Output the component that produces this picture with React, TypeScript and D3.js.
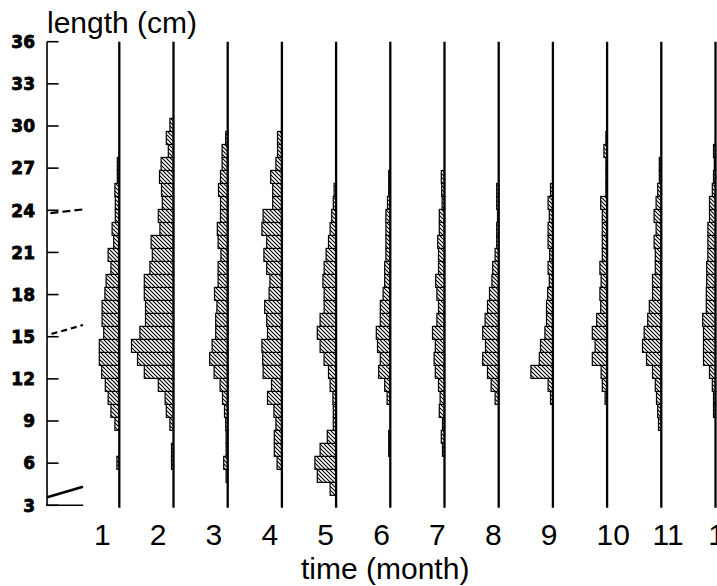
import React, { useEffect, useRef } from "react";
import * as d3 from "d3";

// months on the x axis
const months = [1, 2, 3, 4, 5, 6, 7, 8, 9, 10, 11, 12];
const monthLabels = ["1", "2", "3", "4", "5", "6", "7", "8", "9", "10", "11", "12"];
const lengthTicks = [3, 6, 9, 12, 15, 18, 21, 24, 27, 30, 33, 36];

// length classes (cm): lower edge of first class and class width
const binStart = 3.71;
const binWidth = 0.925;

// relative frequency per length class, from the smallest class upwards
const m1 = [0, 0, 0.6, 0, 0, 1.1, 2.1, 2.8, 3.5, 4.4, 5, 5, 3.9, 4.3, 4.3, 3.6, 3.3, 2.1, 2.8, 1.4, 1.8, 1, 1, 1.1, 0.5, 0.5, 0, 0, 0];
const m2 = [0, 0, 0.5, 0.5, 0, 0.9, 1.8, 2.1, 3.8, 7.3, 9, 10.5, 8.4, 7, 7, 7.3, 7.3, 5.9, 5.3, 5.6, 3.4, 3.8, 2.8, 3, 3.5, 3.1, 1.3, 1.8, 0.9];
const m3 = [0, 0.4, 1, 0.4, 0.4, 0.5, 0.8, 1.3, 1.9, 3.4, 4.5, 3.9, 3, 3, 2.7, 3.3, 2.4, 2.4, 1.7, 2.4, 2.6, 1.8, 1.8, 2.3, 1.8, 1.4, 1.4, 0.5, 0];
const m4 = [0, 0, 1.2, 1.9, 1.9, 1.5, 2, 3.6, 2.6, 4.7, 4.8, 5, 3.6, 3.8, 4.3, 3.2, 3, 3.8, 4.5, 3.8, 5, 4.7, 2.3, 2.3, 2.8, 1.5, 1.1, 1.1, 0];
const m5 = [1.5, 4.7, 5.3, 4, 2.2, 0.7, 0.7, 0.8, 1.5, 1.9, 3, 4, 4.7, 4, 3, 3, 3.3, 3, 2.5, 1.9, 1.5, 1.1, 0.7, 0.5, 0, 0, 0, 0, 0];
const m6 = [0, 0, 0, 0.4, 0.4, 0, 0, 0.8, 1.4, 2.9, 2.5, 3.2, 3.5, 2.5, 2.5, 1.8, 1.4, 1.4, 1.1, 1.1, 1.1, 1.1, 0.7, 0.4, 0.4, 0, 0, 0, 0];
const m7 = [0, 0, 0, 0.5, 0.8, 0.5, 1.3, 1.1, 1.5, 2.3, 2.6, 2.3, 3, 1.9, 1.5, 1.9, 2.2, 1.5, 1.5, 1.7, 1.3, 1.3, 0.6, 0.7, 0.8, 0, 0, 0, 0];
const m8 = [0, 0, 0, 0, 0, 0, 0, 0.9, 1.9, 2.8, 4, 3.3, 4, 3.4, 2.8, 2.3, 1.7, 1.5, 0.9, 0.5, 0.5, 0.3, 0.5, 0.5, 0, 0, 0, 0, 0];
const m9 = [0, 0, 0, 0, 0, 0, 0, 0.6, 1.2, 5.5, 3.4, 3.1, 2, 1.6, 1.6, 1.3, 0.9, 1.2, 0.8, 1.2, 1.2, 0.9, 1.2, 0.6, 0, 0, 0, 0, 0];
const m10 = [0, 0, 0, 0, 0, 0, 0, 0.5, 1.2, 1.5, 3.7, 3, 3.7, 2.6, 1.6, 1.8, 1.5, 1.8, 1.2, 1.2, 1.2, 1.2, 1.6, 0.3, 0.3, 0.3, 0.8, 0.3, 0];
const m11 = [0, 0, 0, 0, 0, 0.7, 0.9, 1.2, 1.5, 2.2, 3.7, 4.7, 4.3, 3.4, 3, 2.2, 2.2, 1.5, 1.5, 1.8, 1.3, 1.8, 1.3, 0.9, 0.5, 0.5, 0, 0, 0];
const m12 = [0, 0, 0, 0, 0, 0, 0.5, 0.5, 0.8, 1.5, 3, 3, 3, 3.2, 2.3, 2.3, 2.2, 2.2, 1.9, 1.9, 1.9, 1.5, 1.5, 0.8, 0.5, 0.3, 0.5, 0, 0];
const monthFreqs = [m1, m2, m3, m4, m5, m6, m7, m8, m9, m10, m11, m12];

// growth curve pieces left of the first month (t in months, length in cm)
const curveUpper = [{ t: -0.27, len: 23.8 }, { t: 0.33, len: 24.06 }];
const curveMid = [{ t: -0.25, len: 15.2 }, { t: 0.33, len: 15.83 }];
const curveLow = [{ t: -0.33, len: 3.57 }, { t: 0.33, len: 4.32 }];

const W = 717;
const H = 586;

const App: React.FC = () => {
  const svgRef = useRef<SVGSVGElement | null>(null);

  useEffect(() => {
    const svg = d3.select(svgRef.current);
    svg.selectAll("*").remove();

    const x = d3.scaleLinear().domain([1, 12]).range([119.3, 715.5]);
    const y = d3.scaleLinear().domain([3, 36]).range([505.3, 41.7]);
    const w = d3.scaleLinear().domain([0, 10]).range([0, 40]);
    const labelX = d3.scaleLinear().domain([1, 12]).range([93.9, 708.3]);

    // hatch pattern
    const defs = svg.append("defs");
    const pat = defs
      .append("pattern")
      .attr("id", "hatch")
      .attr("patternUnits", "userSpaceOnUse")
      .attr("width", 4)
      .attr("height", 4);
    pat.append("rect").attr("width", 4).attr("height", 4).attr("fill", "#fff");
    pat
      .append("path")
      .attr("d", "M-1,-1 L5,5 M3,-1 L5,1 M-1,3 L1,5")
      .attr("stroke", "#000")
      .attr("stroke-width", 1.1);

    // histograms
    monthFreqs.forEach((freqs, mi) => {
      const m = months[mi];
      const g = svg.append("g");
      g.selectAll("rect")
        .data(freqs.map((v, i) => ({ v, i })).filter((d) => d.v > 0))
        .join("rect")
        .attr("x", (d) => x(m) - w(d.v))
        .attr("width", (d) => w(d.v))
        .attr("y", (d) => y(binStart + (d.i + 1) * binWidth))
        .attr("height", (d) => y(binStart + d.i * binWidth) - y(binStart + (d.i + 1) * binWidth))
        .attr("fill", "url(#hatch)")
        .attr("stroke", "#000")
        .attr("stroke-width", 1.2);
    });

    // month lines
    svg
      .append("g")
      .selectAll("line")
      .data(months)
      .join("line")
      .attr("x1", (d) => x(d))
      .attr("x2", (d) => x(d))
      .attr("y1", y(36))
      .attr("y2", y(3) + 2.5)
      .attr("stroke", "#000")
      .attr("stroke-width", 2.3);

    // y axis
    const axisX = x(-1 / 3);
    svg
      .append("line")
      .attr("x1", axisX)
      .attr("x2", axisX)
      .attr("y1", y(36))
      .attr("y2", y(3))
      .attr("stroke", "#000")
      .attr("stroke-width", 1.6);
    svg
      .append("line")
      .attr("x1", axisX - 1)
      .attr("x2", x(1 / 3))
      .attr("y1", y(3))
      .attr("y2", y(3))
      .attr("stroke", "#000")
      .attr("stroke-width", 1.6);
    svg
      .append("g")
      .selectAll("line")
      .data(lengthTicks)
      .join("line")
      .attr("x1", axisX)
      .attr("x2", axisX + 11.5)
      .attr("y1", (d) => y(d))
      .attr("y2", (d) => y(d))
      .attr("stroke", "#000")
      .attr("stroke-width", 1.6);
    svg
      .append("g")
      .selectAll("text")
      .data(lengthTicks)
      .join("text")
      .attr("x", axisX - 12)
      .attr("y", (d) => y(d))
      .attr("dy", "0.37em")
      .attr("text-anchor", "end")
      .attr("font-family", "'DejaVu Sans', sans-serif")
      .attr("font-weight", "bold")
      .attr("font-size", 17)
      .attr("stroke", "#000")
      .attr("stroke-width", 0.8)
      .text((d) => d);

    // growth curve pieces
    const line = d3
      .line<{ t: number; len: number }>()
      .x((d) => x(d.t))
      .y((d) => y(d.len));
    svg
      .append("path")
      .attr("d", line(curveUpper)!)
      .attr("fill", "none")
      .attr("stroke", "#000")
      .attr("stroke-width", 2.2)
      .attr("stroke-dasharray", "8,4");
    svg
      .append("path")
      .attr("d", line(curveMid)!)
      .attr("fill", "none")
      .attr("stroke", "#000")
      .attr("stroke-width", 2.2)
      .attr("stroke-dasharray", "6,4");
    svg
      .append("path")
      .attr("d", line(curveLow)!)
      .attr("fill", "none")
      .attr("stroke", "#000")
      .attr("stroke-width", 2.6);

    // month labels
    svg
      .append("g")
      .selectAll("text")
      .data(months)
      .join("text")
      .attr("x", (d) => labelX(d))
      .attr("y", 545)
      .attr("font-family", "'Liberation Sans', Arial, sans-serif")
      .attr("font-size", 30)
      .text((d, i) => monthLabels[i]);

    // axis titles
    svg
      .append("text")
      .attr("x", 47)
      .attr("y", 33)
      .attr("font-family", "'Liberation Sans', Arial, sans-serif")
      .attr("font-size", 30)
      .text("length (cm)");
    svg
      .append("text")
      .attr("x", 301)
      .attr("y", 579)
      .attr("font-family", "'Liberation Sans', Arial, sans-serif")
      .attr("font-size", 30)
      .text("time (month)");
  }, []);

  return (
    <div style={{ position: "absolute", left: 0, top: 0 }}>
      <svg ref={svgRef} width={W} height={H} style={{ display: "block", background: "#fff" }}></svg>
    </div>
  );
};

export default App;
